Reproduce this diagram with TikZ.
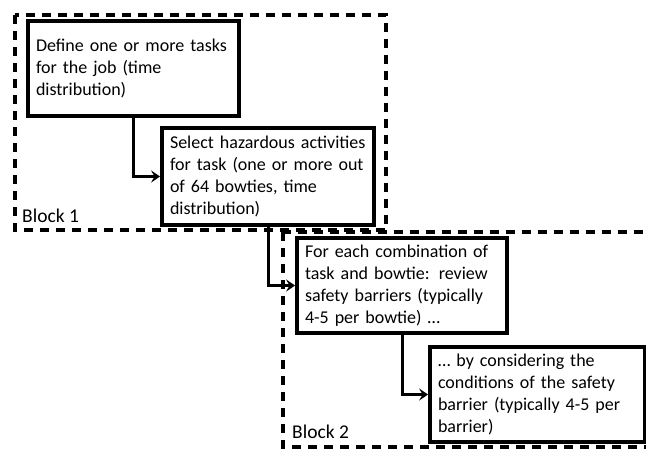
\documentclass[tikz,border=0pt]{standalone}
\usepackage{fontspec}
\setmainfont{Carlito}
\usetikzlibrary{arrows.meta}
\tikzset{
  blockframe/.style={draw=black, line width=3.5pt, dash pattern=on 9pt off 7pt},
  stepbox/.style={draw=black, line width=3.8pt, rectangle, align=left, inner xsep=8pt,
    font=\fontsize{18}{21.8}\selectfont, anchor=center},
  flow/.style={draw=black, line width=3pt, -{Stealth[length=9pt,width=12pt,inset=3.5pt]}},
  blocklabel/.style={font=\fontsize{19.5}{21}\selectfont, anchor=base west, inner sep=0pt}
}
\newcommand{\oneline}[1]{\mbox{#1}}
\begin{document}
\begin{tikzpicture}[x=1pt,y=-1pt]
\useasboundingbox (0,0) rectangle (646,448);
\clip (0,0) rectangle (646,448);
\draw[blockframe] (15,15) rectangle (386,230);
\draw[blockframe] (283,232) rectangle (720,447);
\node[blocklabel] (l1) at (22,222) {Block 1};
\node[blocklabel] (l2) at (292,438) {Block 2};
\node[stepbox, minimum width=211pt, minimum height=95pt, text width=195pt] (b1) at (133.5,68.5)
  {\oneline{Define one or more tasks}\\\oneline{for the job (time}\\\oneline{distribution)}};
\node[stepbox, minimum width=212pt, minimum height=97pt, text width=196pt] (b2) at (268,176.5)
  {\oneline{Select hazardous activities}\\\oneline{for task (one or more out}\\\oneline{of 64 bowties, time}\\\oneline{distribution)}};
\node[stepbox, minimum width=210pt, minimum height=95pt, text width=194pt] (b3) at (402,285.5)
  {\oneline{For each combination of}\\\oneline{task and bowtie: review}\\\oneline{safety barriers (typically}\\\oneline{4-5 per bowtie) \dots}};
\node[stepbox, minimum width=215pt, minimum height=95pt, text width=199pt] (b4) at (537.5,394.5)
  {\oneline{\dots\ by considering the}\\\oneline{conditions of the safety}\\\oneline{barrier (typically 4-5 per}\\\oneline{barrier)}};
\draw[flow] (b1.south) |- (b2.west);
\draw[flow] (b2.south) |- (b3.west);
\draw[flow] (b3.south) |- (b4.west);
\end{tikzpicture}
\end{document}
